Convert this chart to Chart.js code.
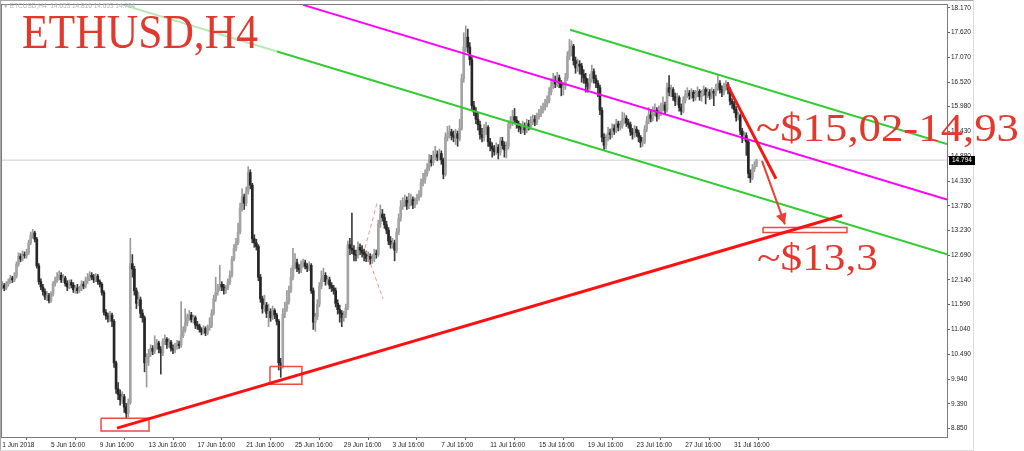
<!DOCTYPE html>
<html lang="en">
<head>
<meta charset="UTF-8" />
<title>ETHUSD,H4</title>
<script src="https://cdn.jsdelivr.net/npm/chart.js@4.4.1/dist/chart.umd.min.js"></script>
<style>
  html, body { margin: 0; padding: 0; background: #fff; }
  #wrap { position: relative; width: 1024px; height: 451px; overflow: hidden; }
  #myChart { position: absolute; left: 0; top: 0; }
  .note { position: absolute; color: #e2392f; font-family: "Liberation Serif", "DejaVu Serif", serif;
          line-height: 1; white-space: nowrap; transform-origin: 0 0; }
  #hdr { position: absolute; left: 4px; top: 2px; font: 6.5px "Liberation Sans", sans-serif;
         color: #b4b4b4; white-space: pre; }
</style>
</head>
<body>
<div id="wrap">
  <canvas id="myChart" width="1024" height="451"></canvas>
  <div id="hdr">▾ ETCUSD,H4  14.653 14.816 14.653 14.794</div>
  <div class="note" data-w="236" style="left:22px;top:8px;font-size:48px">ETHUSD,H4</div>
  <div class="note" data-w="263" style="left:756px;top:108px;font-size:40px">~$15,02-14,93</div>
  <div class="note" data-w="121" style="left:757px;top:239px;font-size:37px">~$13,3</div>
</div>
<script>
// H4 bars, index counted from 1 Jun 2018 00:00 (bar 4 = first visible)
const firstBar = 4;
const firstOpen = 12.00;

const closes = [
  12.02, 11.96, 12.05, 12.10, 12.18, 12.14, 12.22, 12.48, 12.66, 12.60, 12.70, 12.68,
  12.74, 12.96, 13.12, 13.18, 13.04, 12.45, 12.10, 11.98, 11.88, 11.76, 11.80, 11.68,
  11.82, 12.05, 12.12, 12.20, 12.24, 12.14, 12.18, 12.06, 11.98, 12.08, 12.02, 11.92,
  11.96, 11.90, 11.95, 12.04, 12.00, 12.12, 12.18, 12.24, 12.20, 12.14, 12.22, 12.10,
  12.04, 11.86, 11.42, 11.34, 11.28, 11.36, 11.22, 10.30, 9.72, 9.60, 9.48, 9.55,
  9.32, 9.18, 9.42, 12.50, 12.38, 11.90, 11.62, 11.70, 11.40, 11.30, 10.30, 10.42,
  10.50, 10.62, 10.56, 10.68, 10.74, 10.60, 10.52, 10.78, 10.82, 10.70, 10.76, 10.62,
  10.58, 10.66, 10.72, 10.68, 10.90, 11.02, 11.18, 11.30, 11.36, 11.26, 11.30, 11.14,
  11.12, 11.04, 10.98, 11.06, 10.96, 11.08, 11.12, 11.40, 11.72, 11.86, 11.96, 12.04,
  11.98, 11.90, 11.96, 12.10, 12.24, 12.60, 12.84, 12.96, 13.20, 13.72, 13.98, 13.84,
  14.10, 14.52, 14.24, 13.05, 12.96, 12.88, 12.20, 11.72, 11.50, 11.58, 11.40, 11.44,
  11.30, 11.46, 11.36, 11.22, 10.30, 10.24, 11.38, 11.50, 11.66, 11.90, 12.20, 12.46,
  12.52, 12.40, 12.36, 12.48, 12.52, 12.44, 12.40, 12.46, 11.90, 11.20, 11.32, 11.60,
  12.00, 12.16, 12.24, 12.10, 12.14, 12.02, 11.96, 11.90, 11.62, 11.48, 11.40, 11.30,
  11.36, 11.52, 12.92, 12.84, 12.80, 12.70, 12.68, 12.86, 12.80, 12.74, 12.70, 12.62,
  12.66, 12.58, 12.60, 12.72, 12.70, 13.38, 13.60, 13.52, 13.36, 13.24, 13.00, 12.92,
  12.96, 12.80, 13.20, 13.50, 13.76, 13.84, 13.90, 13.78, 13.84, 13.92, 13.80, 13.88,
  13.96, 14.02, 14.30, 14.36, 14.50, 14.62, 14.80, 14.74, 14.88, 14.92, 14.86, 14.94,
  14.80, 14.48, 15.30, 15.36, 15.42, 15.34, 15.30, 15.38, 15.28, 15.50, 16.60, 17.30,
  17.52, 17.30, 17.02, 16.00, 15.86, 15.70, 15.58, 15.36, 15.30, 15.48, 15.52, 15.20,
  15.10, 15.04, 14.98, 15.08, 14.96, 15.22, 15.12, 15.02, 15.10, 15.58, 15.64, 15.76,
  15.68, 15.60, 15.52, 15.48, 15.56, 15.46, 15.60, 15.54, 15.66, 15.70, 15.64, 15.76,
  15.82, 15.90, 15.96, 16.04, 16.12, 16.30, 16.44, 16.56, 16.48, 16.62, 16.50, 16.40,
  16.44, 16.62, 17.10, 17.22, 17.32, 17.00, 16.84, 16.92, 16.88, 16.70, 16.62, 16.50,
  16.42, 16.58, 16.76, 16.60, 16.50, 16.40, 15.90, 15.30, 15.12, 15.28, 15.40, 15.36,
  15.50, 15.44, 15.60, 15.52, 15.56, 15.68, 15.72, 15.62, 15.58, 15.42, 15.36, 15.48,
  15.40, 15.30, 15.18, 15.20, 15.48, 15.66, 15.80, 15.72, 15.84, 15.90, 15.76, 15.86,
  15.96, 16.02, 15.90, 16.40, 16.30, 16.36, 16.20, 16.10, 16.18, 15.96, 15.88, 16.12,
  16.24, 16.28, 16.22, 16.30, 16.18, 16.26, 16.32, 16.20, 16.28, 16.36, 16.24, 16.30,
  16.22, 16.32, 16.28, 16.40, 16.50, 16.36, 16.30, 16.42, 16.48, 16.36, 16.10, 16.04,
  15.92, 15.74, 15.78, 15.44, 15.28, 15.34, 15.20, 14.50, 14.40, 14.60, 14.653, 14.794
];

const highs = [
  12.10, 12.06, 12.10, 12.16, 12.24, 12.22, 12.30, 12.54, 12.74, 12.72, 12.78, 12.76,
  12.82, 13.02, 13.20, 13.26, 13.22, 13.08, 12.50, 12.16, 12.04, 11.94, 11.88, 11.84,
  11.88, 12.10, 12.20, 12.30, 12.34, 12.30, 12.26, 12.22, 12.12, 12.14, 12.14, 12.08,
  12.02, 12.04, 12.00, 12.12, 12.10, 12.20, 12.28, 12.32, 12.30, 12.26, 12.28, 12.26,
  12.14, 12.08, 11.90, 11.48, 11.40, 11.44, 11.40, 11.26, 10.34, 9.86, 9.70, 9.66,
  9.60, 9.40, 9.50, 13.06, 12.70, 12.44, 11.96, 11.86, 11.76, 11.48, 11.34, 10.50,
  10.60, 10.70, 10.68, 10.90, 10.82, 10.78, 10.66, 10.84, 10.92, 10.86, 10.84, 10.80,
  10.70, 10.74, 10.80, 10.78, 11.66, 11.10, 11.50, 11.38, 11.46, 11.42, 11.36, 11.34,
  11.22, 11.16, 11.08, 11.12, 11.10, 11.14, 11.30, 11.48, 11.80, 12.20, 12.04, 12.46,
  12.10, 12.04, 12.02, 12.16, 12.34, 12.66, 12.92, 13.06, 13.40, 13.84, 14.16, 14.04,
  14.20, 14.65, 14.58, 14.28, 13.14, 13.04, 12.92, 12.26, 11.78, 11.80, 11.64, 11.60,
  11.50, 11.56, 11.50, 11.40, 11.26, 10.40, 11.50, 11.64, 11.90, 12.00, 12.40, 12.84,
  12.72, 12.60, 12.48, 12.56, 12.60, 12.58, 12.50, 12.54, 12.50, 11.96, 11.40, 11.70,
  12.08, 12.34, 12.40, 12.30, 12.22, 12.20, 12.08, 12.02, 11.96, 11.70, 11.58, 11.46,
  11.44, 11.60, 13.00, 13.06, 13.62, 12.90, 12.80, 12.98, 12.94, 12.90, 12.82, 12.78,
  12.76, 12.72, 12.70, 12.82, 12.80, 13.46, 13.80, 13.70, 13.60, 13.44, 13.30, 13.10,
  13.06, 13.02, 13.28, 13.60, 13.90, 13.96, 14.02, 13.98, 14.06, 14.04, 13.98, 13.96,
  14.04, 14.12, 14.38, 14.50, 14.58, 14.72, 14.92, 14.90, 15.00, 15.10, 15.00, 15.04,
  15.00, 14.84, 15.40, 15.54, 15.56, 15.48, 15.44, 15.48, 15.44, 15.70, 16.70, 17.62,
  17.77, 17.70, 17.40, 17.08, 16.10, 15.96, 15.84, 15.66, 15.50, 15.58, 15.64, 15.56,
  15.28, 15.18, 15.12, 15.18, 15.14, 15.30, 15.30, 15.20, 15.20, 15.66, 15.76, 15.90,
  15.94, 15.76, 15.66, 15.60, 15.66, 15.62, 15.70, 15.68, 15.76, 15.80, 15.78, 15.84,
  15.92, 16.00, 16.06, 16.14, 16.22, 16.40, 16.60, 16.72, 16.66, 16.74, 16.68, 16.56,
  16.52, 16.72, 17.20, 17.47, 17.44, 17.36, 17.08, 17.04, 17.00, 16.94, 16.80, 16.72,
  16.60, 16.70, 16.90, 16.82, 16.68, 16.56, 16.46, 15.96, 15.38, 15.36, 15.52, 15.48,
  15.60, 15.58, 15.70, 15.66, 15.66, 15.86, 15.84, 15.78, 15.70, 15.64, 15.50, 15.56,
  15.54, 15.46, 15.34, 15.30, 15.56, 15.76, 15.96, 15.88, 15.98, 16.04, 15.96, 16.00,
  16.06, 16.20, 16.08, 16.50, 16.67, 16.46, 16.40, 16.28, 16.28, 16.22, 16.04, 16.20,
  16.34, 16.40, 16.34, 16.38, 16.34, 16.34, 16.42, 16.36, 16.34, 16.44, 16.40, 16.38,
  16.36, 16.40, 16.36, 16.48, 16.67, 16.56, 16.44, 16.50, 16.56, 16.52, 16.40, 16.16,
  16.10, 15.98, 15.86, 15.82, 15.50, 15.42, 15.40, 15.24, 14.58, 14.70, 14.76, 14.816
];

const lows = [
  11.94, 11.90, 11.92, 12.00, 12.06, 12.08, 12.10, 12.18, 12.44, 12.54, 12.56, 12.62,
  12.62, 12.70, 12.92, 13.06, 12.98, 12.40, 12.04, 11.92, 11.80, 11.70, 11.68, 11.63,
  11.64, 11.78, 12.00, 12.08, 12.14, 12.08, 12.08, 12.00, 11.90, 11.94, 11.96, 11.86,
  11.84, 11.84, 11.86, 11.90, 11.94, 11.96, 12.06, 12.12, 12.14, 12.08, 12.10, 12.04,
  11.98, 11.80, 11.36, 11.26, 11.20, 11.22, 11.10, 10.20, 9.62, 9.48, 9.36, 9.40,
  9.20, 9.07, 9.10, 9.38, 12.20, 11.80, 11.50, 11.56, 11.30, 11.20, 10.10, 9.76,
  10.24, 10.44, 10.48, 10.50, 10.60, 10.52, 10.05, 10.46, 10.70, 10.62, 10.64, 10.56,
  10.50, 10.52, 10.60, 10.62, 10.64, 10.86, 10.98, 11.12, 11.24, 11.20, 11.18, 11.06,
  11.04, 10.98, 10.92, 10.94, 10.90, 10.92, 11.02, 11.08, 11.36, 11.66, 11.80, 11.90,
  11.90, 11.82, 11.84, 11.92, 12.04, 12.20, 12.56, 12.78, 12.92, 13.16, 13.66, 13.70,
  13.78, 14.04, 14.16, 12.96, 12.86, 12.80, 12.12, 11.64, 11.40, 11.44, 11.30, 11.10,
  11.22, 11.26, 11.28, 11.14, 10.14, 9.98, 10.18, 11.30, 11.44, 11.60, 11.86, 12.14,
  12.38, 12.32, 12.28, 12.30, 12.42, 12.38, 12.32, 12.34, 11.84, 11.04, 11.00, 11.26,
  11.54, 11.94, 12.10, 12.02, 12.04, 11.94, 11.88, 11.82, 11.54, 11.38, 11.20, 11.10,
  11.22, 11.30, 11.48, 12.70, 12.72, 12.56, 12.56, 12.62, 12.70, 12.64, 12.56, 12.54,
  12.54, 12.48, 12.50, 12.54, 12.62, 12.66, 13.30, 13.44, 13.28, 13.16, 12.92, 12.84,
  12.84, 12.56, 12.74, 13.14, 13.44, 13.70, 13.76, 13.70, 13.72, 13.78, 13.72, 13.74,
  13.82, 13.90, 13.98, 14.22, 14.28, 14.44, 14.56, 14.66, 14.68, 14.80, 14.78, 14.80,
  14.70, 14.38, 14.44, 15.22, 15.28, 15.24, 15.20, 15.14, 15.10, 15.22, 15.46, 16.52,
  17.20, 17.18, 16.90, 15.90, 15.78, 15.60, 15.46, 15.26, 15.20, 15.22, 15.36, 15.10,
  15.00, 14.86, 14.90, 14.92, 14.82, 14.90, 15.04, 14.86, 14.84, 15.04, 15.50, 15.56,
  15.60, 15.50, 15.42, 15.38, 15.40, 15.36, 15.40, 15.46, 15.48, 15.58, 15.56, 15.58,
  15.70, 15.76, 15.84, 15.90, 15.98, 16.06, 16.24, 16.38, 16.40, 16.42, 16.40, 16.22,
  16.24, 16.36, 16.56, 17.02, 17.10, 16.90, 16.72, 16.76, 16.70, 16.52, 16.50, 16.30,
  16.30, 16.36, 16.52, 16.50, 16.40, 16.20, 15.80, 15.20, 15.02, 15.04, 15.22, 15.26,
  15.30, 15.36, 15.40, 15.44, 15.46, 15.50, 15.60, 15.54, 15.50, 15.34, 15.26, 15.30,
  15.32, 15.20, 15.08, 15.10, 15.16, 15.42, 15.60, 15.64, 15.66, 15.78, 15.66, 15.70,
  15.78, 15.88, 15.82, 15.86, 16.22, 16.20, 16.12, 16.00, 16.02, 15.88, 15.80, 15.84,
  16.06, 16.18, 16.14, 16.16, 16.10, 16.12, 16.20, 16.12, 16.10, 16.22, 16.04, 16.18,
  16.14, 16.16, 16.00, 16.22, 16.34, 16.28, 16.20, 16.24, 16.34, 16.26, 16.02, 15.94,
  15.84, 15.66, 15.68, 15.36, 15.18, 15.22, 14.90, 14.40, 14.30, 14.36, 14.54, 14.653
];

const dateTickBars = [4, 28, 52, 76, 100, 124, 148, 172, 196, 220, 244, 268, 292, 316, 340, 364];
const dateTickLabels = ['1 Jun 2018', '5 Jun 16:00', '9 Jun 16:00', '13 Jun 16:00', '17 Jun 16:00',
  '21 Jun 16:00', '25 Jun 16:00', '29 Jun 16:00', '3 Jul 16:00', '7 Jul 16:00', '11 Jul 16:00',
  '15 Jul 16:00', '19 Jul 16:00', '23 Jul 16:00', '27 Jul 16:00', '31 Jul 16:00'];
const priceTicks = [18.17, 17.62, 17.07, 16.52, 15.98, 15.43, 14.88, 14.33, 13.78, 13.23,
  12.69, 12.14, 11.59, 11.04, 10.49, 9.94, 9.39, 8.85];
const priceTickLabels = ['18.170', '17.620', '17.070', '16.520', '15.980', '15.430', '14.880',
  '14.330', '13.780', '13.230', '12.690', '12.140', '11.590', '11.040', '10.490', '9.940',
  '9.390', '8.850'];
const bidPrice = 14.794;
const xMin = 3.886, xMax = 468.71;
const yMin = 8.655, yMax = 18.236;

// drawn objects as [bar, price]
const supportLine = [[60.45, 8.853], [417.1, 13.567]];
const channelMid = [[152.0, 18.236], [468.7, 13.919]];
const channelLowFaint = [[63.4, 18.236], [139.2, 17.203]];
const channelLow = [[139.2, 17.203], [468.7, 12.707]];
const channelHigh = [[283.3, 17.685], [468.7, 15.152]];
const dropLine = [[360.5, 16.474], [384.6, 14.381]];
const dropArrow = [[377.7, 14.778], [389.0, 13.368]];
const sketchLine = [[188.3, 13.831], [182.4, 12.84], [191.3, 11.716]];
const boxes = [
  [[52.6, 9.073], [76.2, 8.787]],
  [[135.7, 10.219], [151.4, 9.822]],
  [[378.2, 13.302], [419.5, 13.192]]
];

const n = Math.min(closes.length, highs.length, lows.length);
const opens = [];
for (let k = 0; k < n; k++) opens.push(k ? closes[k - 1] : firstOpen);

const wickData = [], bodyData = [], bodyColors = [], wickColors = [];
for (let k = 0; k < n; k++) {
  const up = closes[k] >= opens[k];
  wickData.push({ x: firstBar + k, y: [lows[k], highs[k]] });
  bodyData.push({ x: firstBar + k, y: [opens[k], closes[k]] });
  bodyColors.push(up ? '#a4a4a4' : '#262626');
  wickColors.push(up ? '#9a9a9a' : '#3a3a3a');
}

function seg(points, color, width, extra) {
  return Object.assign({
    type: 'line',
    data: points.map(p => ({ x: p[0], y: p[1] })),
    borderColor: color, borderWidth: width,
    pointRadius: 0, fill: false, tension: 0, order: 1
  }, extra || {});
}
function rect(b) {
  const [a, c] = b;
  return [[a[0], a[1]], [c[0], a[1]], [c[0], c[1]], [a[0], c[1]], [a[0], a[1]]];
}

const frame = {
  id: 'frame',
  beforeDraw(chart) {
    const ctx = chart.ctx;
    ctx.save();
    ctx.fillStyle = '#fff';
    ctx.fillRect(0, 0, chart.width, chart.height);
    ctx.restore();
  },
  afterDraw(chart) {
    const ctx = chart.ctx, a = chart.chartArea;
    ctx.save();
    ctx.strokeStyle = '#7a7a7a';
    ctx.lineWidth = 1;
    ctx.strokeRect(Math.round(a.left) - 0.5, Math.round(a.top) - 0.5,
      Math.round(a.right - a.left) + 1, Math.round(a.bottom - a.top) + 1);
    ctx.strokeStyle = '#a8a8a8';
    ctx.beginPath();
    ctx.moveTo(0.5, 0); ctx.lineTo(0.5, 450);
    ctx.moveTo(0, 0.5); ctx.lineTo(973, 0.5);
    ctx.stroke();
    ctx.strokeStyle = '#dcdcdc';
    ctx.beginPath();
    ctx.moveTo(973.5, 0); ctx.lineTo(973.5, 450.5); ctx.lineTo(0, 450.5);
    ctx.stroke();
    // bid price tag
    const y = chart.scales.y.getPixelForValue(bidPrice);
    ctx.fillStyle = '#000';
    ctx.fillRect(a.right + 2, Math.round(y) - 4, 26, 9);
    ctx.fillStyle = '#fff';
    ctx.font = '6.5px "Liberation Sans", sans-serif';
    ctx.textBaseline = 'middle';
    ctx.fillText(bidPrice.toFixed(3), a.right + 5, Math.round(y) + 0.5);
    ctx.restore();
  }
};

const arrowHead = {
  id: 'arrowHead',
  afterDatasetsDraw(chart) {
    chart.data.datasets.forEach((ds, di) => {
      if (!ds.arrow) return;
      const pts = chart.getDatasetMeta(di).data;
      const p = pts[pts.length - 2], q = pts[pts.length - 1];
      const ang = Math.atan2(q.y - p.y, q.x - p.x);
      const len = 11, half = 5.5;
      const ctx = chart.ctx;
      ctx.save();
      ctx.fillStyle = ds.borderColor;
      ctx.beginPath();
      ctx.moveTo(q.x, q.y);
      ctx.lineTo(q.x - len * Math.cos(ang) + half * Math.sin(ang), q.y - len * Math.sin(ang) - half * Math.cos(ang));
      ctx.lineTo(q.x - len * Math.cos(ang) - half * Math.sin(ang), q.y - len * Math.sin(ang) + half * Math.cos(ang));
      ctx.closePath();
      ctx.fill();
      ctx.restore();
    });
  }
};

const ctx = document.getElementById('myChart').getContext('2d');
new Chart(ctx, {
  type: 'bar',
  data: {
    datasets: [
      seg(dropArrow, '#ea3f36', 2, { arrow: true, order: 0 }),
      seg(dropLine, '#f01a14', 3, { order: 0 }),
      seg(supportLine, '#ff1010', 3, { order: 0 }),
      ...boxes.map(b => seg(rect(b), '#ec4a40', 1.5, { order: 0 })),
      seg(sketchLine, '#f49090', 1, { borderDash: [4, 3], order: 1 }),
      seg(channelMid, '#ff00ff', 2, { order: 2 }),
      seg(channelHigh, '#33cc33', 2, { order: 2 }),
      seg(channelLow, '#33cc33', 2, { order: 2 }),
      seg(channelLowFaint, '#b4e8b4', 2, { order: 2 }),
      {
        type: 'bar', data: bodyData, backgroundColor: bodyColors,
        barThickness: 2, grouped: false, borderWidth: 0, order: 5
      },
      {
        type: 'bar', data: wickData, backgroundColor: wickColors,
        barThickness: 1, grouped: false, borderWidth: 0, order: 6
      },
      seg([[xMin, bidPrice], [xMax, bidPrice]], '#cccccc', 1, { order: 9 })
    ]
  },
  options: {
    responsive: false,
    animation: false,
    devicePixelRatio: 1,
    layout: { padding: { left: 2, top: 2, right: 0, bottom: 0 } },
    plugins: { legend: { display: false }, tooltip: { enabled: false } },
    scales: {
      x: {
        type: 'linear', min: xMin, max: xMax, offset: false,
        afterBuildTicks: s => { s.ticks = dateTickBars.map(v => ({ value: v })); },
        afterFit: s => { s.height = 14; },
        ticks: {
          autoSkip: false, maxRotation: 0, align: 'start', padding: 1, color: '#222',
          font: { family: 'Liberation Sans', size: 6.5 },
          callback: (v, i) => dateTickLabels[i]
        },
        grid: { drawOnChartArea: false, tickLength: 3, color: '#666' },
        border: { color: '#7a7a7a' }
      },
      y: {
        position: 'right', min: yMin, max: yMax,
        afterBuildTicks: s => { s.ticks = priceTicks.map(v => ({ value: v })); },
        afterFit: s => { s.width = 77; },
        ticks: {
          autoSkip: false, padding: 1, crossAlign: 'near', color: '#222',
          font: { family: 'Liberation Sans', size: 6.5 },
          callback: (v, i) => priceTickLabels[i]
        },
        grid: { drawOnChartArea: false, tickLength: 3, color: '#666' },
        border: { color: '#7a7a7a' }
      }
    }
  },
  plugins: [frame, arrowHead]
});

document.querySelectorAll('.note').forEach(el => {
  const w = el.getBoundingClientRect().width;
  el.style.transform = 'scaleX(' + (el.dataset.w / w) + ')';
});
</script>
</body>
</html>
